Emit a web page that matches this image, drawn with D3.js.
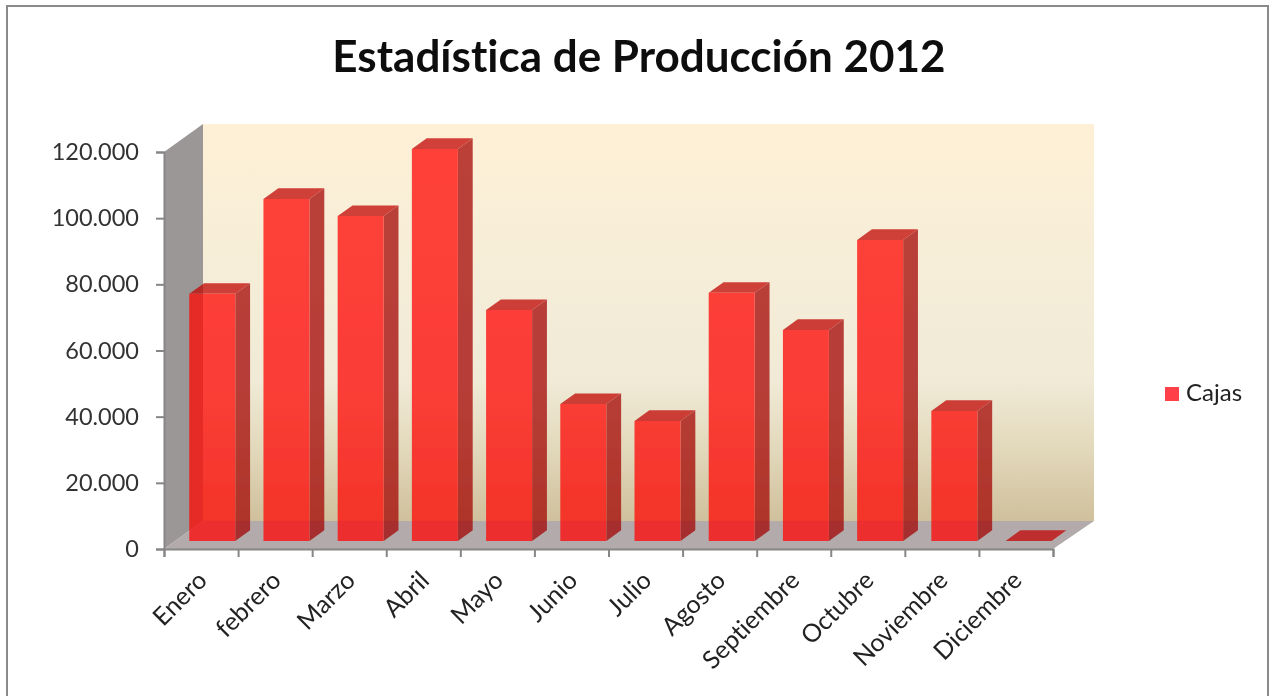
<!DOCTYPE html>
<html>
<head>
<meta charset="utf-8">
<script src="https://cdnjs.cloudflare.com/ajax/libs/d3/7.8.5/d3.min.js"></script>
<style>
    html, body { margin: 0; padding: 0; background: #fff; }
    svg { display: block; }
    text { font-family: Lato, "Open Sans", sans-serif; font-variant-ligatures: none; }
</style>
</head>
<body>
<div id="wrapper"></div>
<script>
const months = ["Enero", "febrero", "Marzo", "Abril", "Mayo", "Junio", "Julio", "Agosto", "Septiembre", "Octubre", "Noviembre", "Diciembre"];
const cajas = [74700, 103400, 98200, 118500, 69800, 41400, 36300, 75000, 63800, 91000, 39300, 0];
const y_ticks = [0, 20000, 40000, 60000, 80000, 100000, 120000];
const series_name = "Cajas";
const chart_title = "Estadística de Producción 2012";

function drawChart() {
    const dimensions = {
        width: 1274,
        height: 696,
        left: 164,
        right: 1053,
        top: 152,
        bottom: 549,
        depth_x: 41,
        depth_y: 28
    };
    // how far into the floor the bars sit, and how deep they are
    const bar_gap = 0.286;
    const bar_depth = 0.38;

    const wrapper = d3.select("#wrapper")
        .append("svg")
        .attr("width", dimensions.width)
        .attr("height", dimensions.height);

    const defs = wrapper.append("defs");
    const wall_gradient = defs.append("linearGradient")
        .attr("id", "wall")
        .attr("x1", 0).attr("y1", 0).attr("x2", 0).attr("y2", 1);
    [["0%", "#fef0d6"], ["40%", "#f5edd8"], ["65%", "#f0ead6"], ["82%", "#e2d8bb"], ["100%", "#d0c09c"]]
        .forEach(s => wall_gradient.append("stop").attr("offset", s[0]).attr("stop-color", s[1]));
    // the reference is a soft upscaled screenshot
    defs.append("filter").attr("id", "soft")
        .append("feGaussianBlur").attr("stdDeviation", 0.5);

    const bounds = wrapper.append("g").attr("filter", "url(#soft)");

    // outer frame
    bounds.append("path")
        .attr("d", `M7,${dimensions.height + 5}V6H1268V${dimensions.height + 5}`)
        .attr("fill", "none")
        .attr("stroke", "#8a8a8a")
        .attr("stroke-width", 2);

    const x_scale = d3.scaleBand()
        .domain(months)
        .range([dimensions.left, dimensions.right + 1.5])
        .paddingInner(0.38)
        .paddingOuter(0.19);
    const x_edges = d3.scaleLinear()
        .domain([0, months.length])
        .range([dimensions.left, dimensions.right]);
    const y_scale = d3.scaleLinear()
        .domain([0, 120000])
        .range([dimensions.bottom, dimensions.top]);

    const line = d3.line();
    const face = (parent, points, fill) => parent.append("path")
        .attr("d", line(points) + "Z")
        .attr("fill", fill);

    const dx = dimensions.depth_x, dy = dimensions.depth_y;
    const l = dimensions.left, r = dimensions.right;
    const t = y_scale(120000), b = y_scale(0);

    // walls and floor
    const walls = bounds.append("g");
    face(walls, [[l + 39, t - dy], [r + dx, t - dy], [r + dx, b - dy], [l + 39, b - dy]], "url(#wall)");
    face(walls, [[l, b], [l, t], [l + 39, t - dy], [l + 39, b - dy]], "#9b9797");
    face(walls, [[l, b], [l + 39, b - dy], [r + dx, b - dy], [r, b]], "#b3abab");

    // bars
    const bars = bounds.append("g");
    months.forEach((m, i) => {
        const g = bars.append("g").attr("opacity", 0.75);
        const x0 = x_scale(m) + 39 * bar_gap;
        const x1 = x0 + x_scale.bandwidth();
        const y0 = y_scale(0) - dy * bar_gap;
        const y1 = y0 - (y_scale(0) - y_scale(cajas[i]));
        const ox = 39 * bar_depth, oy = dy * bar_depth;
        face(g, [[x0, y1], [x1, y1], [x1 + ox, y1 - oy], [x0 + ox, y1 - oy]], "#c10503");
        if (cajas[i] > 0) {
            face(g, [[x1, y0], [x1, y1], [x1 + ox, y1 - oy], [x1 + ox, y0 - oy]], "#a40503");
            face(g, [[x0, y0], [x0, y1], [x1, y1], [x1, y0]], "#ff0503");
        }
    });

    // axes
    const es = d3.formatLocale({ decimal: ",", thousands: ".", grouping: [3], currency: ["", ""] });
    const y_axis_gen = d3.axisLeft(y_scale)
        .tickValues(y_ticks)
        .tickFormat(es.format(",d"))
        .tickSize(8)
        .tickPadding(17);
    const y_axis = bounds.append("g")
        .attr("transform", `translate(${l},0)`)
        .call(y_axis_gen);

    const x_ticks_gen = d3.axisBottom(x_edges)
        .tickValues(d3.range(months.length + 1))
        .tickFormat("")
        .tickSize(8);
    const x_ticks = bounds.append("g")
        .attr("transform", `translate(0,${b})`)
        .call(x_ticks_gen);

    [y_axis, x_ticks].forEach(a => {
        a.selectAll("path.domain").attr("stroke", "#868686").attr("stroke-width", 2);
        a.selectAll("line").attr("stroke", "#868686").attr("stroke-width", 2);
    });
    y_axis.selectAll("text")
        .attr("fill", "#333")
        .style("font-size", "23.5px");

    const x_labels_gen = d3.axisBottom(d3.scalePoint()
            .domain(months)
            .range([x_edges(0.5), x_edges(months.length - 0.5)]))
        .tickSize(0);
    const x_labels = bounds.append("g")
        .attr("transform", `translate(0,${b})`)
        .call(x_labels_gen);
    x_labels.select("path.domain").remove();
    x_labels.selectAll("text")
        .attr("fill", "#222")
        .attr("text-anchor", "end")
        .attr("dy", 0)
        .attr("y", 0)
        .attr("transform", "translate(7,33) rotate(-45)")
        .style("font-size", "25px");

    // title
    bounds.append("text")
        .attr("x", 639)
        .attr("y", 72)
        .attr("text-anchor", "middle")
        .attr("fill", "#111")
        .style("font-size", "44px")
        .style("font-weight", 700)
        .text(chart_title);

    // legend
    const legend = bounds.append("g").attr("transform", "translate(1165,387)");
    legend.append("rect")
        .attr("width", 14)
        .attr("height", 14)
        .attr("fill", "#ff4048");
    legend.append("text")
        .attr("x", 21)
        .attr("y", 14)
        .attr("fill", "#222")
        .style("font-size", "24px")
        .text(series_name);
}

drawChart();
</script>
</body>
</html>
